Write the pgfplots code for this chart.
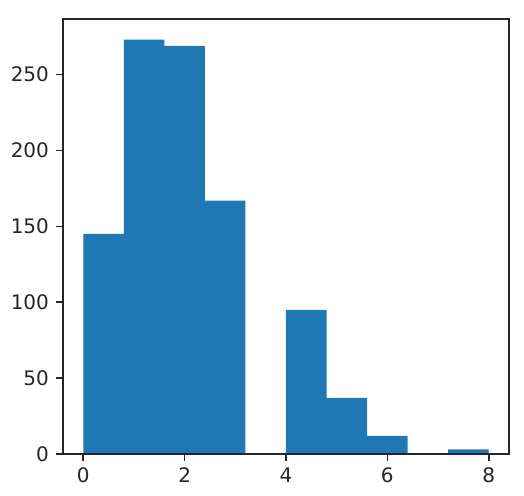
\documentclass[border=0pt]{standalone}
\usepackage{pgfplots}
\pgfplotsset{compat=1.18}
\usepackage{fontspec}
\setmainfont{DejaVu Sans}
\definecolor{mplblue}{HTML}{1F77B4}
\definecolor{spine}{HTML}{262626}
\begin{document}
\begin{tikzpicture}
\begin{axis}[
  name=ax,
  scale only axis,
  width=223pt, height=217.5pt,
  xmin=-0.4, xmax=8.4,
  ymin=0, ymax=286.65,
  xtick={0,2,4,6,8},
  ytick={0,50,100,150,200,250},
  tick align=outside,
  major tick length=3.5pt,
  tick style={spine, line width=0.8pt},
  axis line style={spine, line width=0.8pt},
  xtick pos=bottom, ytick pos=left,
  /pgf/number format/assume math mode=true,
  ticklabel style={font=\fontsize{10}{12}\selectfont, text=spine},
  axis on top,
]
\addplot[ybar interval, fill=mplblue, draw=none] coordinates {
(0.0,145) (0.8,273) (1.6,269) (2.4,167) (3.2,0) (4.0,95) (4.8,37) (5.6,12) (6.4,0) (7.2,3) (8.0,3)
};
\end{axis}
\path (ax.south west) ++(-31.5pt,-21pt) coordinate (a);
\path (ax.north east) ++(7.5pt,9.5pt) coordinate (b);
\path (a) rectangle (b);
\end{tikzpicture}
\end{document}
